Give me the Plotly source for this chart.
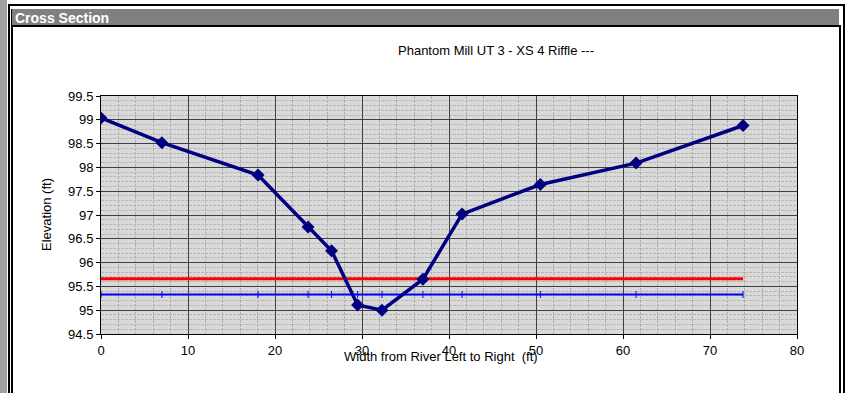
import plotly.graph_objects as go

# ---- data ----
station = [0.0, 7.0, 18.05, 23.8, 26.5, 29.5, 32.3, 37.0, 41.5, 50.5, 61.5, 73.8]
elevation = [99.04, 98.52, 97.84, 96.75, 96.25, 95.11, 95.0, 95.65, 97.02, 97.64, 98.09, 98.88]
bankfull_elev = 95.66
water_surface_elev = 95.33

chart_title = "Phantom Mill UT 3 - XS 4 Riffle ---"
x_title = "Width from River Left to Right  (ft)"
y_title = "Elevation (ft)"
header = "Cross Section"

FW, FH = 846, 393
L, R, T, B = 101, 797, 96, 334
PW, PH = R - L, B - T


def px(x):
    return (x - L) / PW


def py(y):
    return (B - y) / PH


fig = go.Figure()

fig.add_trace(go.Scatter(
    x=[station[0], station[-1]], y=[bankfull_elev, bankfull_elev],
    mode="lines", line=dict(color="#ff0000", width=3), showlegend=False,
    hoverinfo="skip"))

fig.add_trace(go.Scatter(
    x=station, y=[water_surface_elev] * len(station),
    mode="lines+markers", line=dict(color="#0000ff", width=2),
    marker=dict(symbol="line-ns-open", size=5, line=dict(color="#0000ff", width=1)),
    showlegend=False, hoverinfo="skip"))

fig.add_trace(go.Scatter(
    x=station, y=elevation, mode="lines+markers",
    line=dict(color="#000080", width=3.5),
    marker=dict(symbol="diamond", size=10, color="#000080"),
    showlegend=False))

font = "Liberation Sans, Arial, sans-serif"

fig.update_xaxes(
    range=[0, 80], dtick=10, tick0=0,
    showgrid=True, gridcolor="#404040", gridwidth=1,
    minor=dict(dtick=2, showgrid=True, gridcolor="#b0b0b0", griddash="3px,1px", gridwidth=1),
    showline=True, linecolor="black", linewidth=1, mirror=True,
    ticks="outside", ticklen=4, tickcolor="black",
    tickfont=dict(family=font, size=13, color="black"),
    zeroline=False,
)
fig.update_yaxes(
    range=[94.5, 99.5], dtick=0.5, tick0=94.5,
    showgrid=True, gridcolor="#404040", gridwidth=1,
    minor=dict(dtick=0.1, showgrid=True, gridcolor="#b8b8b8", griddash="3px,1px", gridwidth=1),
    showline=True, linecolor="black", linewidth=1, mirror=True,
    ticks="outside", ticklen=4, tickcolor="black",
    tickfont=dict(family=font, size=13, color="black"),
    zeroline=False,
)

shapes = []


def rect(x0, y0, x1, y1, color):
    shapes.append(dict(type="rect", xref="paper", yref="paper",
                       x0=px(x0), x1=px(x1), y0=py(y1), y1=py(y0),
                       fillcolor=color, line=dict(width=0), layer="above"))


# frame
rect(0, 0, 7, FH, "#a0a0a0")        # left gray strip
rect(8, 4, 845, 6, "black")         # top border
rect(8, 4, 10, FH, "black")         # left outer line
rect(11, 9, 13, FH, "black")        # left inner line
rect(12, 9, 839, 25, "#808080")     # header bar
rect(11, 25, 841, 27, "black")      # line under header
rect(839, 25, 841, FH, "black")     # right inner line
rect(843, 4, 845, FH, "black")      # right outer line

annotations = [
    dict(text=header, xref="paper", yref="paper", x=px(13), y=py(17.5),
         xanchor="left", yanchor="middle", showarrow=False,
         font=dict(family=font, size=14, color="white", weight="bold")),
    dict(text=chart_title, xref="paper", yref="paper", x=px(496), y=py(50),
         xanchor="center", yanchor="middle", showarrow=False,
         font=dict(family=font, size=13, color="black")),
    dict(text=x_title, xref="paper", yref="paper", x=px(441), y=py(356),
         xanchor="center", yanchor="middle", showarrow=False,
         font=dict(family=font, size=13, color="black")),
    dict(text=y_title, xref="paper", yref="paper", x=px(46), y=py(215),
         xanchor="center", yanchor="middle", showarrow=False, textangle=-90,
         font=dict(family=font, size=13, color="black")),
]

fig.update_layout(
    width=FW, height=FH,
    margin=dict(l=L, r=FW - R, t=T, b=FH - B, pad=0),
    paper_bgcolor="white", plot_bgcolor="#d9d9d9",
    shapes=shapes, annotations=annotations,
    font=dict(family=font, color="black"),
)

fig.write_html(
    "out.html",
    config={"displayModeBar": False},
    post_script="document.body.style.margin='0';document.body.style.overflow='hidden';",
)
